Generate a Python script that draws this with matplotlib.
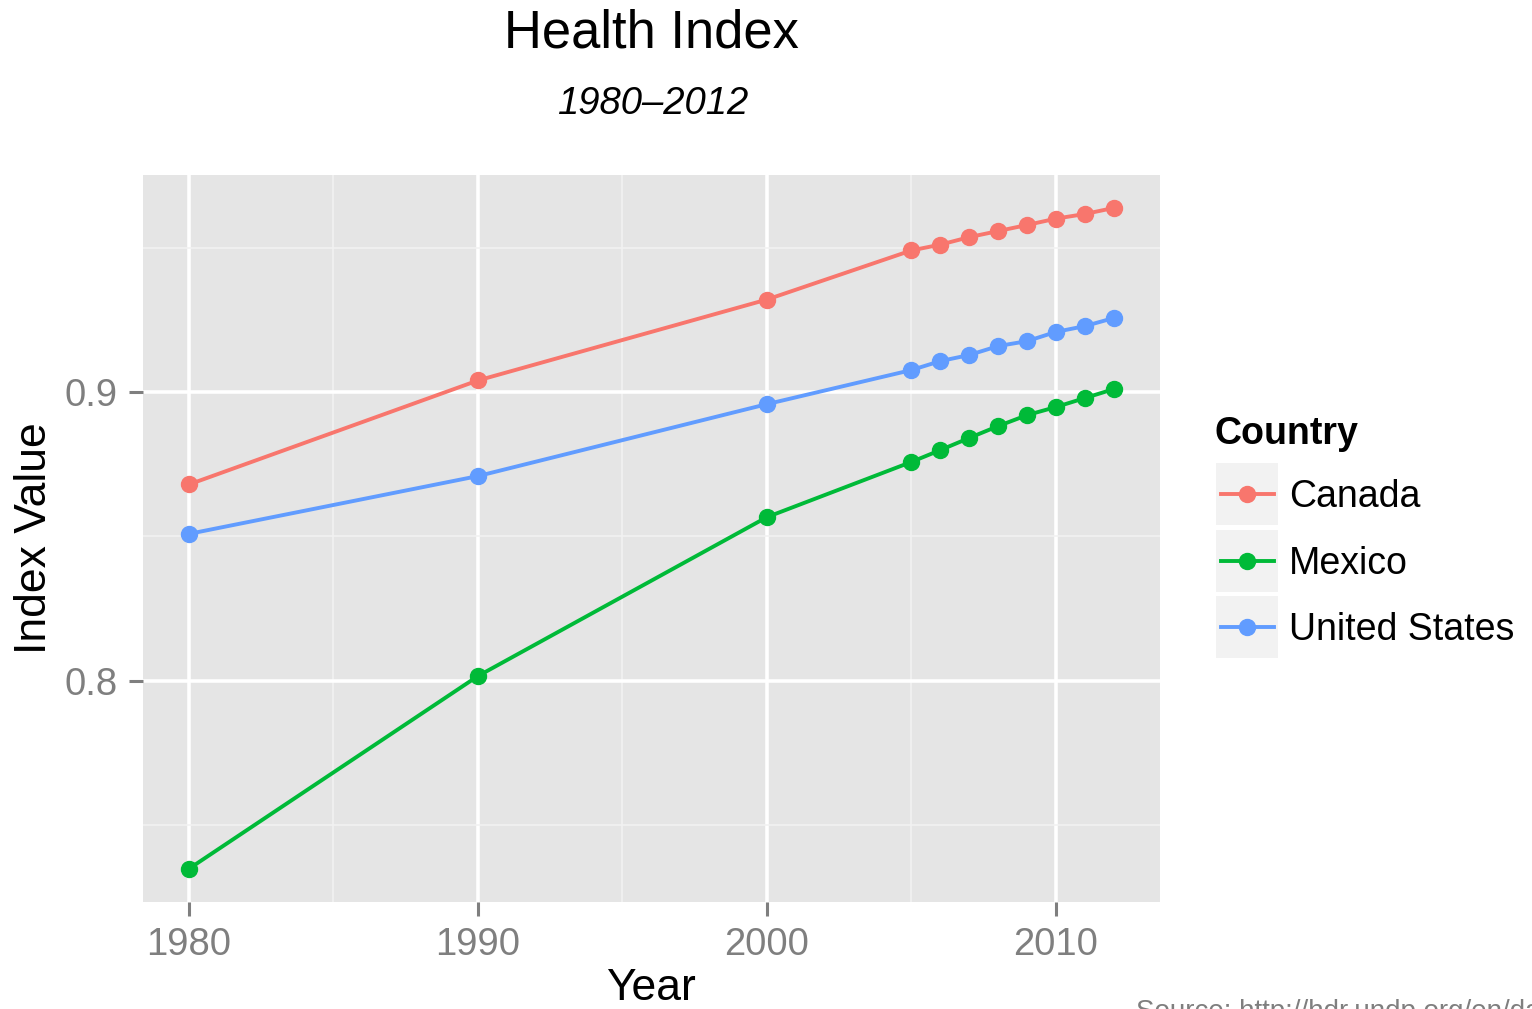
import matplotlib
matplotlib.use("Agg")
import matplotlib.pyplot as plt
from matplotlib.patches import Rectangle
from matplotlib.lines import Line2D

plt.rcParams['font.family'] = ['Liberation Sans', 'DejaVu Sans']

# -----------------------------------------------------------
# dati
# -----------------------------------------------------------
years = [1980, 1990, 2000, 2005, 2006, 2007, 2008, 2009, 2010, 2011, 2012]
countries = ["Canada", "Mexico", "United States"]

canada = [0.868, 0.904, 0.932, 0.949, 0.951, 0.9536, 0.9557, 0.9578, 0.960, 0.9616, 0.9637]
mexico = [0.735, 0.8017, 0.8567, 0.8758, 0.8799, 0.8841, 0.8882, 0.892, 0.8948, 0.8979, 0.901]
usa = [0.8509, 0.8709, 0.8958, 0.9076, 0.9107, 0.9128, 0.9159, 0.9176, 0.9208, 0.9228, 0.9256]
series = [canada, mexico, usa]
colors = ["#F8766D", "#00BA38", "#619CFF"]

xticks = [1980, 1990, 2000, 2010]
xminor = [1985, 1995, 2005]
yticks = [0.8, 0.9]
yminor = [0.75, 0.85, 0.95]

W, H = 1532, 1009
fig = plt.figure(figsize=(W / 100, H / 100), dpi=100)
ax = fig.add_axes([143 / W, 1 - 902 / H, (1160 - 143) / W, (902 - 175) / H])
ax.set_facecolor("#E5E5E5")
for s in ax.spines.values():
    s.set_visible(False)

ax.set_xticks(xticks)
ax.set_xticks(xminor, minor=True)
ax.set_yticks(yticks)
ax.set_yticks(yminor, minor=True)
ax.set_yticklabels([f"{v:.1f}" for v in yticks])
ax.grid(True, which="major", color="white", lw=2.6)
ax.grid(True, which="minor", color="#F2F2F2", lw=1.2)
ax.set_axisbelow(True)
ax.tick_params(which="major", length=10, width=2.2, color="#7F7F7F",
               labelcolor="#7F7F7F", labelsize=27.5, pad=8)
ax.tick_params(which="minor", length=0)

for vals, c in zip(series, colors):
    ax.plot(years, vals, color=c, lw=2.8, marker="o", ms=11.5, zorder=3)

ax.set_xlim(1978.41, 2013.6)
ax.set_ylim(0.7235, 0.9751)

# titoli
fig.text(651 / W, 1 - 34 / H, "Health Index", ha="center", va="center", fontsize=37.8)
fig.text(653 / W, 1 - 104 / H, "1980\u20132012", ha="center", va="center",
         fontsize=27.5, style="italic")
fig.text(651 / W, 1 - 989 / H, "Year", ha="center", va="center", fontsize=32)
fig.text(35 / W, 1 - 538 / H, "Index Value", ha="center", va="center",
         fontsize=32, rotation=90)
fig.text(1136 / W, 1 - 1019 / H, "Source: http://hdr.undp.org/en/data",
         ha="left", va="baseline", fontsize=20, color="#7F7F7F")

# legenda manuale
lg = fig.add_axes([0, 0, 1, 1])
lg.set_xlim(0, W)
lg.set_ylim(H, 0)
lg.axis("off")
lg.patch.set_alpha(0)
lg.text(1215, 434, "Country", fontsize=27, fontweight="bold", va="center", ha="left")
for i, (name, c) in enumerate(zip(countries, colors)):
    top = 463 + i * 66.5
    lg.add_patch(Rectangle((1216, top), 62, 62, facecolor="#F2F2F2", edgecolor="none"))
    cy = top + 31
    lg.add_line(Line2D([1221, 1274], [cy, cy], color=c, lw=2.8))
    lg.plot([1247], [cy], marker="o", ms=11.5, color=c)
    lg.text(1289, cy + 3, name, fontsize=27, va="center", ha="left")

fig.savefig("out.png", dpi=100)
